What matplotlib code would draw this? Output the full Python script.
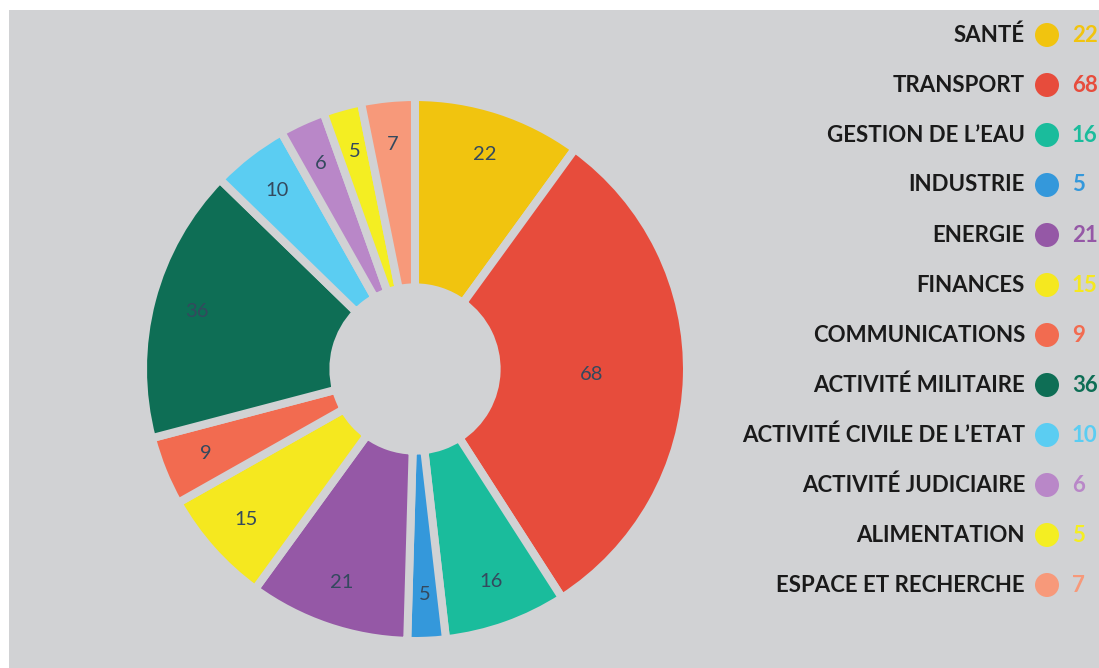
import numpy as np
import matplotlib
matplotlib.use("Agg")
import matplotlib.pyplot as plt
from matplotlib.patches import Rectangle, Ellipse

# data
categories = ["SANTÉ", "TRANSPORT", "GESTION DE L’EAU", "INDUSTRIE", "ENERGIE",
              "FINANCES", "COMMUNICATIONS", "ACTIVITÉ MILITAIRE",
              "ACTIVITÉ CIVILE DE L’ETAT", "ACTIVITÉ JUDICIAIRE",
              "ALIMENTATION", "ESPACE ET RECHERCHE"]
values = [22, 68, 16, 5, 21, 15, 9, 36, 10, 6, 5, 7]
colors = ["#f1c40f", "#e74c3c", "#1abc9c", "#3498db", "#9558a6", "#f5e81f",
          "#f26b50", "#0e6e55", "#5bcdf2", "#b987c8", "#f4ee22", "#f7997a"]

bg = "#d1d2d4"
W, H = 1099, 668
plt.rcParams['font.family'] = ['Lato', 'DejaVu Sans']

fig = plt.figure(figsize=(W / 100, H / 100), dpi=100)
fig.patch.set_facecolor("white")
# gray panel with white strip at top and left
fig.add_artist(Rectangle((9 / W, 0), 1, 1 - 10 / H, transform=fig.transFigure,
                         facecolor=bg, edgecolor="none", zorder=0))

# donut
cx, cy, R = 415, 369, 272
ax = fig.add_axes([(cx - R) / W, (H - cy - R) / H, 2 * R / W, 2 * R / H])
ax.pie(values, colors=colors, startangle=90, counterclock=False, radius=1,
       wedgeprops=dict(width=0.70, edgecolor=bg, linewidth=5.8))
ax.set_xlim(-1, 1)
ax.set_ylim(-1, 1)
ax.axis('off')

total = sum(values)
start = 90.0
for v in values:
    span = v / total * 360
    mid = np.deg2rad(start - span / 2)
    r = 0.65 if v > 50 else 0.83
    ax.text(r * np.cos(mid), r * np.sin(mid), str(v), ha='center', va='center',
            fontsize=14.5, color="#34495e")
    start -= span

# legend on the right
for i, (cat, v, c) in enumerate(zip(categories, values, colors)):
    y = 1 - (35 + 50 * i) / H
    fig.text(1025 / W, y, cat, ha='right', va='center', fontsize=16,
             fontweight='bold', color="#1a1a1a")
    fig.add_artist(Ellipse((1047 / W, y), 24 / W, 24 / H, transform=fig.transFigure,
                           facecolor=c, edgecolor='none'))
    fig.text(1072 / W, y, str(v), ha='left', va='center', fontsize=16,
             fontweight='bold', color=c)

fig.savefig("out.png", dpi=100, facecolor=fig.get_facecolor())
